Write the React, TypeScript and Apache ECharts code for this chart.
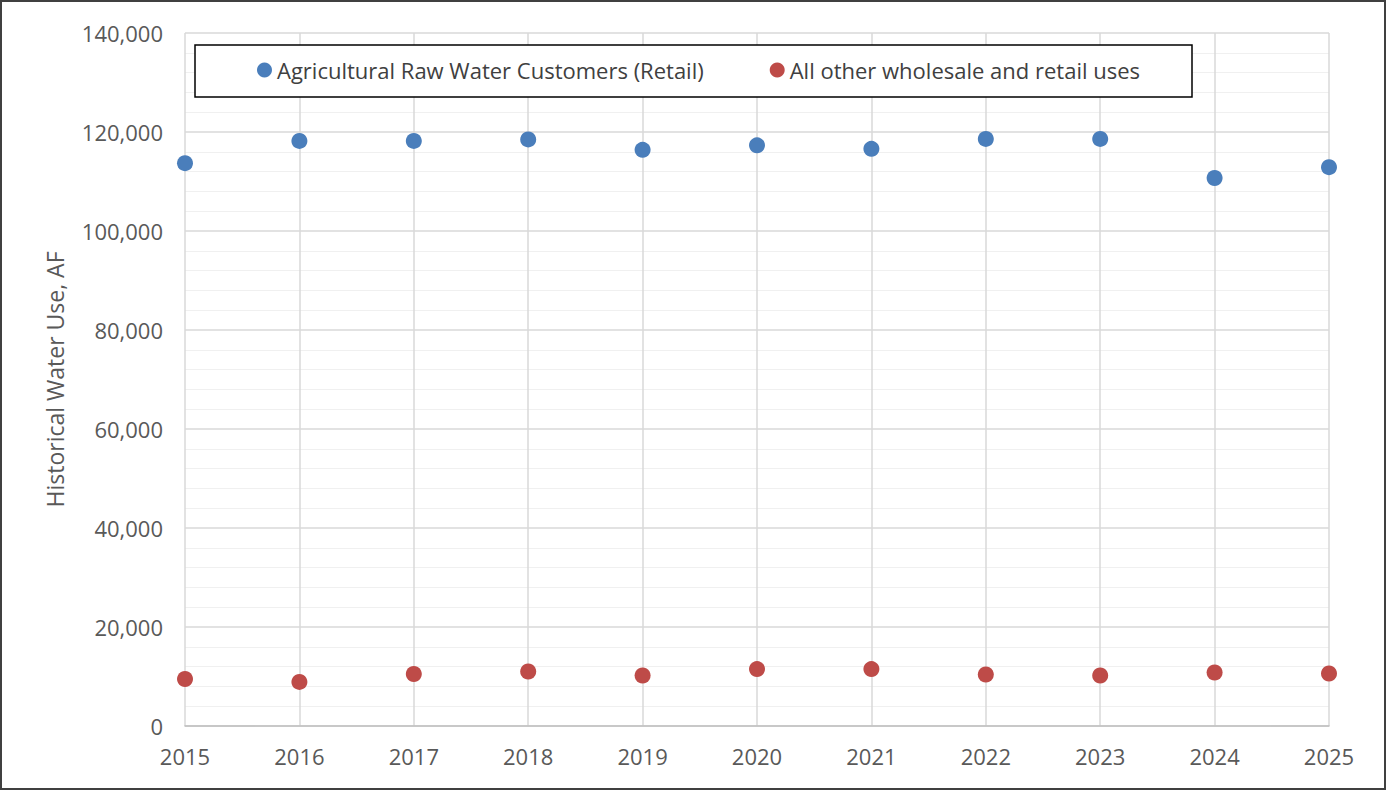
import React, { useEffect, useRef } from "react";
import * as echarts from "echarts";

const years = [2015, 2016, 2017, 2018, 2019, 2020, 2021, 2022, 2023, 2024, 2025];
const agricultural = [113700, 118200, 118200, 118500, 116400, 117300, 116600, 118600, 118600, 110700, 112900];
const otherUses = [9500, 8900, 10500, 11000, 10200, 11500, 11500, 10400, 10200, 10800, 10600];
const seriesNames = ["Agricultural Raw Water Customers (Retail)", "All other wholesale and retail uses"];
const yAxisTitle = "Historical Water Use, AF";

const FONT = "'Open Sans', 'Noto Sans', sans-serif";

export default function App() {
  const ref = useRef<HTMLDivElement>(null);
  useEffect(() => {
    if (!ref.current) return;
    const chart = echarts.init(ref.current, null, { renderer: "svg" });
    chart.setOption({
      animation: false,
      backgroundColor: "#ffffff",
      textStyle: { fontFamily: FONT },
      grid: { left: 185, right: 58, top: 33, bottom: 65 },
      graphic: [
        {
          type: "rect",
          shape: { x: 1, y: 1, width: 1384, height: 788 },
          style: { fill: "none", stroke: "#404040", lineWidth: 2 },
          silent: true,
          z: 100,
        },
        {
          type: "rect",
          shape: { x: 195, y: 45, width: 997, height: 52 },
          style: { fill: "#ffffff", stroke: "#000000", lineWidth: 1.5 },
          silent: true,
          z: 5,
        },
      ],
      legend: {
        left: 257,
        top: 59,
        z: 10,
        itemWidth: 15,
        itemHeight: 15,
        itemGap: 66,
        icon: "circle",
        padding: 0,
        textStyle: { fontSize: 22, color: "#404040", fontFamily: FONT },
        data: seriesNames,
      },
      xAxis: {
        type: "value",
        min: 2015,
        max: 2025,
        interval: 1,
        axisLine: { show: true, lineStyle: { color: "#bfbfbf", width: 1.5 } },
        axisTick: { show: false },
        axisLabel: {
          formatter: (v: number) => String(v),
          fontSize: 22,
          color: "#595959",
          margin: 19,
          fontFamily: FONT,
        },
        splitLine: { show: true, lineStyle: { color: "#d9d9d9", width: 1.5 } },
      },
      yAxis: {
        type: "value",
        min: 0,
        max: 140000,
        interval: 20000,
        name: yAxisTitle,
        nameLocation: "middle",
        nameGap: 119,
        nameTextStyle: { fontSize: 23, color: "#595959", fontFamily: FONT },
        axisLine: { show: false },
        axisTick: { show: false },
        axisLabel: {
          formatter: (v: number) => v.toLocaleString("en-US"),
          fontSize: 22,
          color: "#595959",
          margin: 22,
          fontFamily: FONT,
        },
        splitLine: { show: true, lineStyle: { color: "#d9d9d9", width: 1.5 } },
        minorTick: { show: false, splitNumber: 5 },
        minorSplitLine: { show: true, lineStyle: { color: "#f0f0f0", width: 1 } },
      },
      series: [
        {
          name: seriesNames[0],
          type: "scatter",
          symbolSize: 16,
          itemStyle: { color: "#4a7ebb", opacity: 1 },
          data: years.map((y, i) => [y, agricultural[i]]),
        },
        {
          name: seriesNames[1],
          type: "scatter",
          symbolSize: 16,
          itemStyle: { color: "#be4b48", opacity: 1 },
          data: years.map((y, i) => [y, otherUses[i]]),
        },
      ],
    });
    return () => chart.dispose();
  }, []);
  return (
    <div
      ref={ref}
      style={{ position: "fixed", left: 0, top: 0, width: 1387, height: 791, background: "#fff" }}
    />
  );
}
